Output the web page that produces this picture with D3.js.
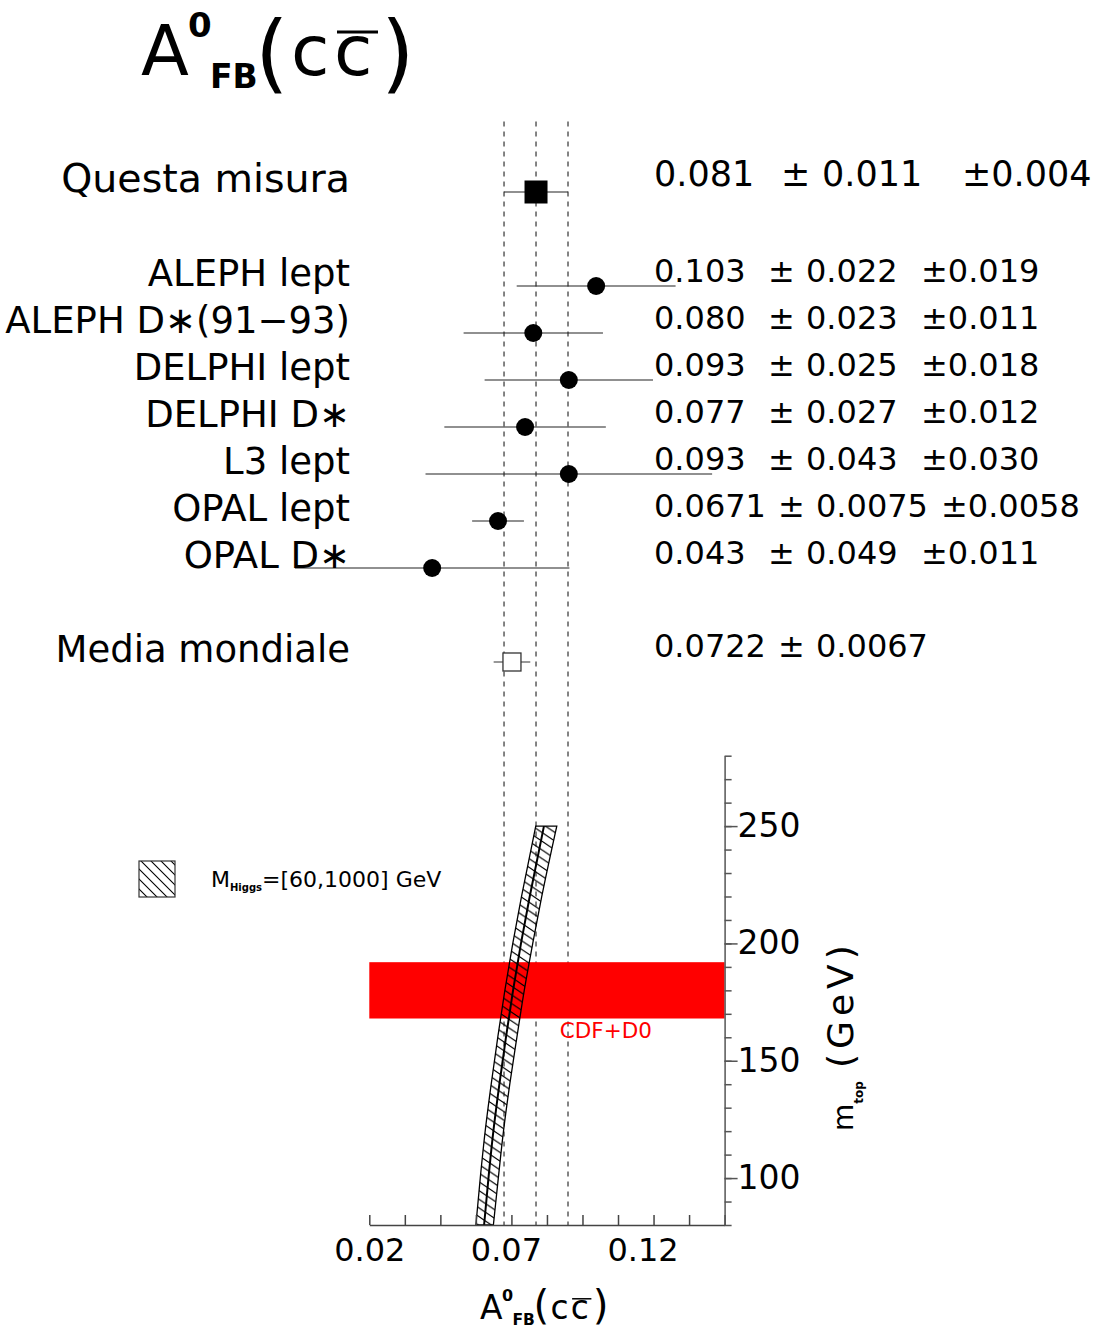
<!DOCTYPE html>
<html>
<head>
<meta charset="utf-8">
<script src="https://cdn.jsdelivr.net/npm/d3@7"></script>
<style>
  html, body { margin: 0; padding: 0; background: #fff; }
  svg { display: block; font-family: "DejaVu Sans", sans-serif; }
</style>
</head>
<body>
<svg id="chart" width="1106" height="1330"></svg>
<script>
// ---- LEP measurements of the c-quark forward-backward asymmetry ----
const expLabels = ["ALEPH lept", "ALEPH D\u2217(91\u221293)", "DELPHI lept", "DELPHI D\u2217",
                   "L3 lept", "OPAL lept", "OPAL D\u2217"];
const expValues = [0.103, 0.080, 0.093, 0.077, 0.093, 0.0671, 0.043];
const expStat   = [0.022, 0.023, 0.025, 0.027, 0.043, 0.0075, 0.049];
const expSyst   = [0.019, 0.011, 0.018, 0.012, 0.030, 0.0058, 0.011];
const expDigits = [3, 3, 3, 3, 3, 4, 3];

// this measurement
const ownLabel = "Questa misura";
const ownValue = 0.081, ownStat = 0.011, ownSyst = 0.004, ownDigits = 3;

// world average
const worldLabel = "Media mondiale";
const worldValue = 0.0722, worldErr = 0.0067, worldDigits = 4;

// Standard Model prediction vs top mass, Higgs mass between 60 and 1000 GeV
const mTopGrid = [80, 100, 120, 140, 160, 180, 200, 220, 250];
const afbLow   = [0.0590, 0.0606, 0.0624, 0.0646, 0.0670, 0.0696, 0.0725, 0.0757, 0.0809];
const afbMid   = [0.0620, 0.0636, 0.0654, 0.0676, 0.0700, 0.0726, 0.0755, 0.0787, 0.0839];
const afbHigh  = [0.0654, 0.0672, 0.0691, 0.0714, 0.0740, 0.0767, 0.0798, 0.0831, 0.0886];
const higgsRange = [60, 1000];

// measured top mass
const mTopMeasured = 180, mTopError = 12;
const mTopSource = "CDF+D0";

// axes
const xDomain = [0.02, 0.15];
const xTickLabels = [0.02, 0.07, 0.12];
const xMinorDivisions = 10;
const yDomain = [80, 280];
const yTickLabels = [100, 150, 200, 250];
const yMinorStep = 10;

// ---- scales ----
const W = 1106, H = 1330;
const x = d3.scaleLinear().domain(xDomain).range([369.3, 724.6]);
const yM = d3.scaleLinear().domain(yDomain).range([1225, 755.7]);
const row = d3.scaleLinear().domain([0, 10]).range([192, 662]);

const svg = d3.select("#chart");
svg.append("rect").attr("width", W).attr("height", H).attr("fill", "#fff");

const defs = svg.append("defs");
function hatch(id, w, h) {
  defs.append("pattern").attr("id", id)
    .attr("patternUnits", "userSpaceOnUse").attr("width", w).attr("height", h)
    .append("path")
    .attr("d", `M${-w},${-h} L${2 * w},${2 * h} M${-w},0 L${w},${2 * h} M0,${-h} L${2 * w},${h}`)
    .attr("stroke", "#000").attr("stroke-width", 1.1).attr("fill", "none");
}
hatch("hatchBand", 13, 8.7);
hatch("hatchLegend", 10, 10);

const fmt = d => d3.format(`.${d}f`);

// ---- vertical reference lines: this measurement and its total error ----
const ownTotal = Math.hypot(ownStat, ownSyst);
const refLines = [ownValue - ownTotal, ownValue, ownValue + ownTotal];
svg.append("g").selectAll("line").data(refLines).join("line")
  .attr("x1", d => x(d)).attr("x2", d => x(d))
  .attr("y1", row(-1.5)).attr("y2", yM(yDomain[0]))
  .attr("stroke", "#333").attr("stroke-width", 1.2)
  .attr("stroke-dasharray", "5,5");

// ---- measurement rows ----
const rows = expLabels.map((label, i) => ({
  label, value: expValues[i], stat: expStat[i], syst: expSyst[i],
  digits: expDigits[i], idx: i + 2
}));

const gRows = svg.append("g");
// error bars (stat and syst added in quadrature)
gRows.selectAll("line.err").data(rows).join("line").attr("class", "err")
  .attr("x1", d => x(d.value - Math.hypot(d.stat, d.syst)))
  .attr("x2", d => x(d.value + Math.hypot(d.stat, d.syst)))
  .attr("y1", d => row(d.idx)).attr("y2", d => row(d.idx))
  .attr("stroke", "#222").attr("stroke-width", 1.2);
gRows.selectAll("circle").data(rows).join("circle")
  .attr("cx", d => x(d.value)).attr("cy", d => row(d.idx)).attr("r", 9)
  .attr("fill", "#000");

// row labels
gRows.selectAll("text.lab").data(rows).join("text").attr("class", "lab")
  .attr("x", 350).attr("y", d => row(d.idx))
  .attr("text-anchor", "end").attr("font-size", 37)
  .text(d => d.label);

// value columns
function valueText(yPos, size, cols, parts) {
  const t = svg.append("text").attr("y", yPos).attr("font-size", size).attr("fill", "#000");
  parts.forEach((p, i) => t.append("tspan").attr("x", cols[i]).text(p));
}
rows.forEach(d => {
  const f = fmt(d.digits);
  const cols = d.digits === 4 ? [654, 778, 816, 941] : [654, 768, 806, 921];
  valueText(row(d.idx) - 4, 32, cols, [f(d.value), "\u00b1", f(d.stat), "\u00b1" + f(d.syst)]);
});

// this measurement
svg.append("line")
  .attr("x1", x(ownValue - ownTotal)).attr("x2", x(ownValue + ownTotal))
  .attr("y1", row(0)).attr("y2", row(0))
  .attr("stroke", "#222").attr("stroke-width", 1.2);
svg.append("rect")
  .attr("x", x(ownValue) - 11.5).attr("y", row(0) - 11.5)
  .attr("width", 23).attr("height", 23).attr("fill", "#000");
svg.append("text").attr("x", 350).attr("y", row(0))
  .attr("text-anchor", "end").attr("font-size", 39.5).text(ownLabel);
valueText(row(0) - 6, 35, [654, 781, 822, 962],
  [fmt(ownDigits)(ownValue), "\u00b1", fmt(ownDigits)(ownStat), "\u00b1" + fmt(ownDigits)(ownSyst)]);

// world average
svg.append("line")
  .attr("x1", x(worldValue - worldErr)).attr("x2", x(worldValue + worldErr))
  .attr("y1", row(10)).attr("y2", row(10))
  .attr("stroke", "#333").attr("stroke-width", 1.2);
svg.append("rect")
  .attr("x", x(worldValue) - 9).attr("y", row(10) - 9)
  .attr("width", 18).attr("height", 18)
  .attr("fill", "#fff").attr("stroke", "#333").attr("stroke-width", 1.3);
svg.append("text").attr("x", 350).attr("y", row(10))
  .attr("text-anchor", "end").attr("font-size", 37).text(worldLabel);
valueText(row(10) - 5, 32, [654, 778, 816],
  [fmt(worldDigits)(worldValue), "\u00b1", fmt(worldDigits)(worldErr)]);

// ---- lower panel: SM prediction vs top mass ----
const band = mTopGrid.map((m, i) => ({ m, lo: afbLow[i], mid: afbMid[i], hi: afbHigh[i] }));

// measured top mass band
svg.append("rect")
  .attr("x", x(xDomain[0])).attr("width", x(xDomain[1]) - x(xDomain[0]))
  .attr("y", yM(mTopMeasured + mTopError))
  .attr("height", yM(mTopMeasured - mTopError) - yM(mTopMeasured + mTopError))
  .attr("fill", "#ff0000");
svg.append("text")
  .attr("x", x(0.0897)).attr("y", yM(mTopMeasured - mTopError) + 19)
  .attr("font-size", 21.5).attr("fill", "#ff0000").text(mTopSource);

// hatched prediction band
const area = d3.area().curve(d3.curveMonotoneY)
  .y(d => yM(d.m)).x0(d => x(d.lo)).x1(d => x(d.hi));
svg.append("path").datum(band).attr("d", area)
  .attr("fill", "url(#hatchBand)").attr("stroke", "#000").attr("stroke-width", 1.3);
const centre = d3.line().curve(d3.curveMonotoneY)
  .x(d => x(d.mid)).y(d => yM(d.m));
svg.append("path").datum(band).attr("d", centre)
  .attr("fill", "none").attr("stroke", "#000").attr("stroke-width", 2);

// x axis: minor ticks pointing up, labels below
const xMinor = d3.range(xMinorDivisions + 1)
  .map(i => xDomain[0] + i * (xDomain[1] - xDomain[0]) / xMinorDivisions);
const gx = svg.append("g").attr("transform", `translate(0,${yM(yDomain[0])})`);
gx.call(d3.axisBottom(x).tickValues(xMinor).tickSize(-10).tickSizeOuter(0).tickFormat(""));
gx.selectAll("path,line").attr("stroke", "#444").attr("stroke-width", 1.5);
const gxl = svg.append("g").attr("transform", `translate(0,${yM(yDomain[0])})`);
gxl.call(d3.axisBottom(x).tickValues(xTickLabels).tickSize(0).tickPadding(13)
  .tickFormat(d3.format(".2f")));
gxl.select(".domain").remove();
gxl.selectAll("text").attr("font-size", 32).attr("font-family", "DejaVu Sans").attr("fill", "#000");

// y axis on the right
const yMinor = d3.range(yDomain[0], yDomain[1] + 1, yMinorStep);
const gy = svg.append("g").attr("transform", `translate(${x(xDomain[1])},0)`);
gy.call(d3.axisRight(yM).tickValues(yMinor).tickSize(7).tickSizeOuter(0).tickFormat(""));
gy.selectAll("path,line").attr("stroke", "#555").attr("stroke-width", 1.5);
const gyl = svg.append("g").attr("transform", `translate(${x(xDomain[1])},0)`);
gyl.call(d3.axisRight(yM).tickValues(yTickLabels).tickSize(13).tickPadding(0)
  .tickFormat(d3.format("d")));
gyl.select(".domain").remove();
gyl.selectAll("line").attr("stroke", "#555").attr("stroke-width", 1.5);
gyl.selectAll("text").attr("font-size", 33).attr("font-family", "DejaVu Sans").attr("fill", "#000");

// legend for the hatched band
svg.append("rect").attr("x", 139).attr("y", 861).attr("width", 36).attr("height", 36)
  .attr("fill", "url(#hatchLegend)").attr("stroke", "#333").attr("stroke-width", 1.2);
const leg = svg.append("text").attr("x", 211).attr("y", 887).attr("font-size", 22);
leg.append("tspan").text("M");
leg.append("tspan").attr("font-size", 10).attr("font-weight", "bold").attr("dy", 4).text("Higgs");
leg.append("tspan").attr("dy", -4).text(`=[${higgsRange[0]},${higgsRange[1]}] GeV`);

// ---- titles ----
function asymTitle(g, s, ox, oy, parenDy) {
  // s: scale factor, (ox, oy): baseline origin of the "A"
  const t = (dx, dy, size, str, bold) => g.append("text")
    .attr("x", ox + dx * s).attr("y", oy + dy * s).attr("font-size", size * s)
    .attr("font-weight", bold ? "bold" : "normal").text(str);
  t(0, 0, 70, "A");
  t(47, -38, 34, "0", true);
  t(69, 13, 33, "FB", true);
  t(114, parenDy, 86, "(");
  t(150, 0, 70, "c");
  t(193, 0, 70, "c");
  t(240, parenDy, 86, ")");
  g.append("line")
    .attr("x1", ox + 196 * s).attr("x2", ox + 237 * s)
    .attr("y1", oy - 43 * s).attr("y2", oy - 43 * s)
    .attr("stroke", "#000").attr("stroke-width", 3.2 * s);
}
asymTitle(svg.append("g"), 1, 141, 75, 7);
asymTitle(svg.append("g"), 0.47, 480, 1319, 0);

// right axis title
const yt = svg.append("text").attr("transform", "translate(853,1131) rotate(-90)");
yt.append("tspan").attr("x", 0).attr("font-size", 28).text("m");
yt.append("tspan").attr("font-size", 12).attr("font-weight", "bold").attr("dy", 10).text("top");
yt.append("tspan").attr("x", 63).attr("dy", -10).attr("font-size", 36)
  .attr("letter-spacing", 5).text("(GeV)");
</script>
</body>
</html>
